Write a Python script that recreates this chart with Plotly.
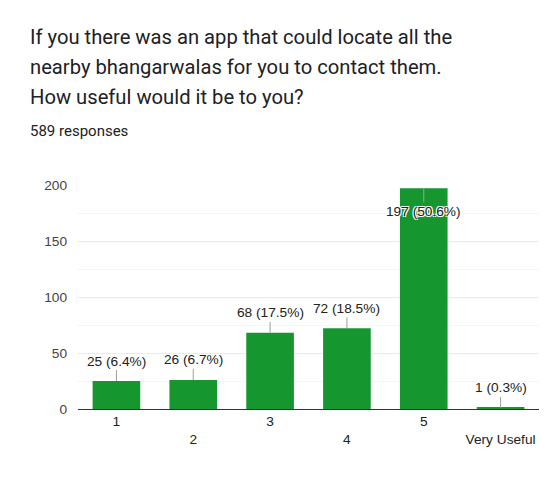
import plotly.graph_objects as go

categories = ["1", "2", "3", "4", "5", "Very Useful"]
counts = [25, 26, 68, 72, 197, 1]
percents = ["6.4%", "6.7%", "17.5%", "18.5%", "50.6%", "0.3%"]
title_lines = [
    "If you there was an app that could locate all the",
    "nearby bhangarwalas for you to contact them.",
    "How useful would it be to you?",
]
subtitle = "589 responses"
y_ticks = [0, 50, 100, 150, 200]

BAR = "#16962f"
OFF = 8  # page body margin
FS = 13.7

fig = go.Figure()
fig.add_trace(go.Bar(
    x=list(range(len(categories))), y=counts,
    marker=dict(color=BAR, line=dict(width=0)),
    width=0.62, hoverinfo="skip",
))

ticktext = [c if i % 2 == 0 else "<br>" + c for i, c in enumerate(categories)]

annotations = []
for i, (v, p) in enumerate(zip(counts, percents)):
    inside = v > 150
    annotations.append(dict(
        x=i, y=v, xref="x", yref="y", text=f"{v} ({p})",
        showarrow=True, arrowhead=0, arrowwidth=1, arrowcolor="#9e9e9e",
        ax=0, ay=23 if inside else -20,
        font=dict(family="Liberation Sans, Arial", size=FS, color="#222222",
                  shadow="1px 1px 0 white, -1px -1px 0 white, 1px -1px 0 white, -1px 1px 0 white" if inside else "none"),
    ))

W, H = 552 - OFF, 502 - OFF
L, R, T, B = 78 - OFF, 13, 185 - OFF, 93
pw, ph = W - L - R, H - T - B

def px(x, y):
    return (x - OFF - L) / pw, (H - B - (y - OFF)) / ph

for k, line in enumerate(title_lines):
    x, y = px(28, 37 + 30 * k)
    annotations.append(dict(
        x=x, y=y, xref="paper", yref="paper", text=line, showarrow=False,
        xanchor="left", yanchor="middle",
        font=dict(family="Roboto, Arial", size=20.2, color="#202124"),
    ))
x, y = px(28, 131)
annotations.append(dict(
    x=x, y=y, xref="paper", yref="paper", text=subtitle, showarrow=False,
    xanchor="left", yanchor="middle",
    font=dict(family="Roboto, Arial", size=15, color="#202124"),
))

fig.update_layout(
    width=W, height=H,
    margin=dict(l=L, r=R, t=T, b=B),
    paper_bgcolor="white", plot_bgcolor="white",
    showlegend=False,
    annotations=annotations,
    xaxis=dict(
        tickmode="array", tickvals=list(range(len(categories))), ticktext=ticktext,
        range=[-0.5, len(categories) - 0.5],
        tickfont=dict(family="Liberation Sans, Arial", size=FS, color="#222222"),
        showgrid=False, showline=True, linecolor="#333333", linewidth=1,
        zeroline=False, ticks="", fixedrange=True,
    ),
    yaxis=dict(
        range=[0, 200], tickvals=y_ticks,
        tickfont=dict(family="Liberation Sans, Arial", size=FS, color="#444444"),
        showgrid=True, gridcolor="#ebebeb", gridwidth=1,
        minor=dict(dtick=25, showgrid=True, gridcolor="#f5f5f5", gridwidth=1),
        zeroline=False, showline=False, ticks="", ticklabelstandoff=10,
    ),
)

fig.write_html("out.html")
